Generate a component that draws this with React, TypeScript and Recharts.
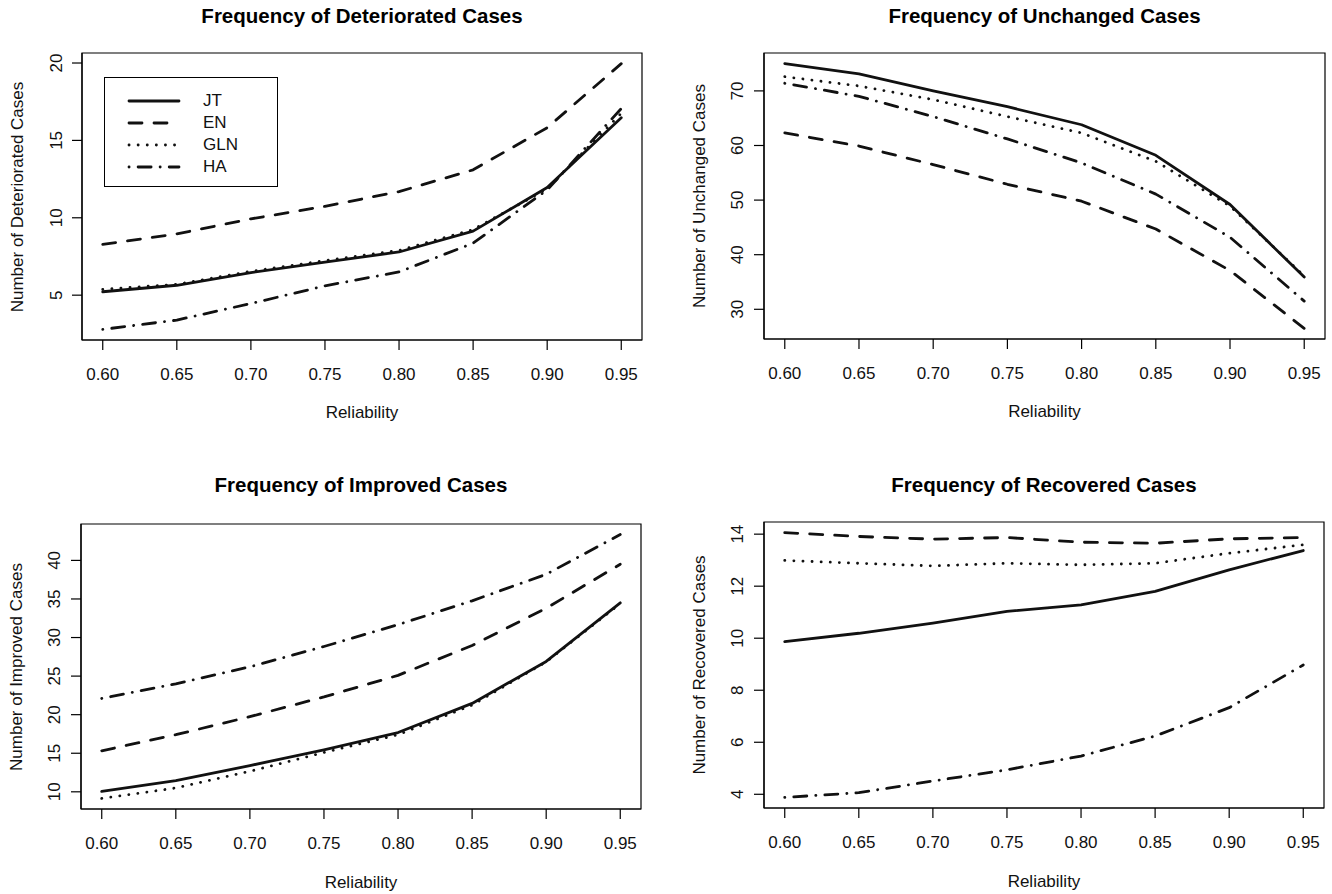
import React from 'react';
import { LineChart, Line, XAxis, YAxis, ReferenceArea, Legend } from 'recharts';

// ---- data ----
const reliability = [0.6, 0.65, 0.7, 0.75, 0.8, 0.85, 0.9, 0.95];
const seriesNames = ['JT', 'EN', 'GLN', 'HA'];

const deterioratedJT = [5.22, 5.64, 6.46, 7.14, 7.79, 9.14, 11.96, 16.46];
const deterioratedEN = [8.28, 8.96, 9.93, 10.74, 11.69, 13.1, 15.82, 19.96];
const deterioratedGLN = [5.38, 5.7, 6.54, 7.23, 7.89, 9.24, 11.86, 16.75];
const deterioratedHA = [2.79, 3.39, 4.46, 5.6, 6.5, 8.36, 11.8, 17.06];
const deterioratedTicks = [5, 10, 15, 20];

const unchangedJT = [75.0, 73.1, 70.0, 67.1, 63.8, 58.2, 49.2, 35.9];
const unchangedEN = [62.3, 59.9, 56.5, 52.9, 49.8, 44.7, 37.1, 26.5];
const unchangedGLN = [72.6, 70.9, 68.4, 65.3, 62.3, 57.1, 48.9, 36.1];
const unchangedHA = [71.4, 69.0, 65.3, 61.2, 56.8, 51.1, 43.2, 31.5];
const unchangedTicks = [30, 40, 50, 60, 70];

const improvedJT = [10.05, 11.46, 13.4, 15.45, 17.68, 21.46, 26.9, 34.5];
const improvedEN = [15.32, 17.4, 19.74, 22.3, 25.1, 28.97, 33.8, 39.5];
const improvedGLN = [9.14, 10.5, 12.66, 15.1, 17.4, 21.25, 26.85, 34.4];
const improvedHA = [22.1, 24.0, 26.2, 28.84, 31.67, 34.76, 38.2, 43.35];
const improvedTicks = [10, 15, 20, 25, 30, 35, 40];

const recoveredJT = [9.87, 10.19, 10.58, 11.03, 11.28, 11.8, 12.63, 13.37];
const recoveredEN = [14.06, 13.91, 13.81, 13.87, 13.69, 13.65, 13.82, 13.87];
const recoveredGLN = [12.99, 12.88, 12.78, 12.88, 12.82, 12.88, 13.27, 13.59];
const recoveredHA = [3.88, 4.06, 4.51, 4.94, 5.47, 6.24, 7.33, 8.97];
const recoveredTicks = [4, 6, 8, 10, 12, 14];

// ---- styles ----
const FONT = '"Liberation Sans", Arial, Helvetica, sans-serif';
const INK = '#111';
const DASH: Record<string, string | undefined> = {
  JT: undefined,
  EN: '13 12',
  GLN: '0.1 9',
  HA: '0.1 9 13 9',
};
const LINE_W = 2.8;
const PW = 666;
const PH = 447;

type PanelCfg = {
  title: string;
  yLabel: string;
  series: number[][];
  ticks: number[];
  left: number;
  top: number;
  boxLeft: number;
  boxRight: number;
  boxTop: number;
  boxBottom: number;
  xTickGap: number;
  yTickGap: number;
  titleY: number;
  xLabelGap: number;
  legend?: boolean;
};

const rDomain = (arrs: number[][]): [number, number] => {
  const all = arrs.flat();
  const mn = Math.min(...all);
  const mx = Math.max(...all);
  const pad = 0.04 * (mx - mn);
  return [mn - pad, mx + pad];
};
const xDomain: [number, number] = [
  reliability[0] - 0.04 * (reliability[reliability.length - 1] - reliability[0]),
  reliability[reliability.length - 1] + 0.04 * (reliability[reliability.length - 1] - reliability[0]),
];

const renderLegend = (props: any) => {
  const payload: any[] = props && props.payload ? props.payload : [];
  const names = seriesNames.filter(
    (n) => payload.length === 0 || payload.some((p: any) => String(p.value) === n)
  );
  return (
    <div
      style={{
        width: 174,
        height: 110,
        border: '1px solid #000',
        boxSizing: 'border-box',
        background: '#fff',
        position: 'relative',
        fontFamily: FONT,
      }}
    >
      {names.map((name, i) => (
        <div
          key={name}
          style={{ position: 'absolute', left: 0, top: 12 + 22 * i, height: 22, display: 'flex', alignItems: 'center' }}
        >
          <svg width={98} height={22} style={{ display: 'block' }}>
            <line
              x1={24}
              x2={74}
              y1={11}
              y2={11}
              stroke={INK}
              strokeWidth={LINE_W}
              strokeDasharray={DASH[name]}
              strokeLinecap="round"
            />
          </svg>
          <span style={{ fontSize: 17, color: INK, lineHeight: '22px' }}>{name}</span>
        </div>
      ))}
    </div>
  );
};

const Panel = ({ cfg }: { cfg: PanelCfg }) => {
  const rows = reliability.map((r, i) => ({
    r,
    JT: cfg.series[0][i],
    EN: cfg.series[1][i],
    GLN: cfg.series[2][i],
    HA: cfg.series[3][i],
  }));
  const yDomain = rDomain(cfg.series);
  const xAxisH = 80;
  const boxCx = (cfg.boxLeft + cfg.boxRight) / 2;
  const boxCy = (cfg.boxTop + cfg.boxBottom) / 2;

  const XTick = (p: any) => (
    <text
      x={p.x}
      y={p.y}
      textAnchor="middle"
      dominantBaseline="central"
      fontFamily={FONT}
      fontSize={17}
      fill={INK}
    >
      {Number(p.payload.value).toFixed(2)}
    </text>
  );
  const YTick = (p: any) => (
    <text
      x={p.x}
      y={p.y}
      textAnchor="middle"
      dominantBaseline="central"
      fontFamily={FONT}
      fontSize={17}
      fill={INK}
      transform={`rotate(-90, ${p.x}, ${p.y})`}
    >
      {p.payload.value}
    </text>
  );

  return (
    <div style={{ position: 'absolute', left: cfg.left, top: cfg.top, width: PW, height: PH }}>
      <LineChart
        width={PW}
        height={PH}
        data={rows}
        margin={{ top: cfg.boxTop, right: PW - cfg.boxRight, bottom: PH - cfg.boxBottom - xAxisH, left: 0 }}
      >
        <XAxis
          dataKey="r"
          type="number"
          domain={xDomain}
          ticks={reliability}
          allowDataOverflow
          height={xAxisH}
          tickSize={10}
          tickMargin={cfg.xTickGap - 10}
          axisLine={{ stroke: '#000', strokeWidth: 1.2 }}
          tickLine={{ stroke: '#000', strokeWidth: 1.2 }}
          tick={XTick}
          interval={0}
        />
        <YAxis
          type="number"
          domain={yDomain}
          ticks={cfg.ticks}
          allowDataOverflow
          width={cfg.boxLeft}
          tickSize={10}
          tickMargin={cfg.yTickGap - 10}
          axisLine={{ stroke: '#000', strokeWidth: 1.2 }}
          tickLine={{ stroke: '#000', strokeWidth: 1.2 }}
          tick={YTick}
          interval={0}
        />
        <ReferenceArea
          x1={xDomain[0]}
          x2={xDomain[1]}
          y1={yDomain[0]}
          y2={yDomain[1]}
          fill="none"
          fillOpacity={0}
          stroke="#000"
          strokeWidth={1.2}
          ifOverflow="visible"
        />
        {seriesNames.map((n) => (
          <Line
            key={n}
            dataKey={n}
            name={n}
            type="linear"
            stroke={INK}
            strokeWidth={LINE_W}
            strokeDasharray={DASH[n]}
            strokeLinecap="round"
            strokeLinejoin="round"
            dot={false}
            activeDot={false}
            isAnimationActive={false}
          />
        ))}
        {cfg.legend ? (
          <Legend
            layout="vertical"
            align="center"
            verticalAlign="middle"
            content={renderLegend}
            wrapperStyle={{ position: 'absolute', left: 104, top: 77, width: 174, height: 110 }}
          />
        ) : null}
      </LineChart>
      <div
        style={{
          position: 'absolute',
          left: boxCx - 300,
          width: 600,
          top: cfg.titleY - 13,
          height: 26,
          lineHeight: '26px',
          textAlign: 'center',
          fontFamily: FONT,
          fontWeight: 'bold',
          fontSize: 20.5,
          color: '#000',
        }}
      >
        {cfg.title}
      </div>
      <div
        style={{
          position: 'absolute',
          left: boxCx - 150,
          width: 300,
          top: cfg.boxBottom + cfg.xLabelGap - 12,
          height: 24,
          lineHeight: '24px',
          textAlign: 'center',
          fontFamily: FONT,
          fontSize: 17,
          color: INK,
        }}
      >
        Reliability
      </div>
      <div
        style={{
          position: 'absolute',
          left: cfg.boxLeft - 64 - 200,
          width: 400,
          top: boxCy - 12,
          height: 24,
          lineHeight: '24px',
          textAlign: 'center',
          fontFamily: FONT,
          fontSize: 17,
          color: INK,
          transform: 'rotate(-90deg)',
          transformOrigin: '50% 50%',
          whiteSpace: 'nowrap',
        }}
      >
        {cfg.yLabel}
      </div>
    </div>
  );
};

const panels: PanelCfg[] = [
  {
    title: 'Frequency of Deteriorated Cases',
    yLabel: 'Number of Deteriorated Cases',
    series: [deterioratedJT, deterioratedEN, deterioratedGLN, deterioratedHA],
    ticks: deterioratedTicks,
    left: 0,
    top: 0,
    boxLeft: 82,
    boxRight: 642,
    boxTop: 53,
    boxBottom: 340,
    xTickGap: 34,
    yTickGap: 25,
    titleY: 16,
    xLabelGap: 73,
    legend: true,
  },
  {
    title: 'Frequency of Unchanged Cases',
    yLabel: 'Number of Unchanged Cases',
    series: [unchangedJT, unchangedEN, unchangedGLN, unchangedHA],
    ticks: unchangedTicks,
    left: 666,
    top: 0,
    boxLeft: 98,
    boxRight: 659,
    boxTop: 53,
    boxBottom: 339,
    xTickGap: 34,
    yTickGap: 26,
    titleY: 16,
    xLabelGap: 73,
  },
  {
    title: 'Frequency of Improved Cases',
    yLabel: 'Number of Improved Cases',
    series: [improvedJT, improvedEN, improvedGLN, improvedHA],
    ticks: improvedTicks,
    left: 0,
    top: 447,
    boxLeft: 81,
    boxRight: 641,
    boxTop: 77,
    boxBottom: 362,
    xTickGap: 34,
    yTickGap: 26,
    titleY: 38,
    xLabelGap: 74,
  },
  {
    title: 'Frequency of Recovered Cases',
    yLabel: 'Number of Recovered Cases',
    series: [recoveredJT, recoveredEN, recoveredGLN, recoveredHA],
    ticks: recoveredTicks,
    left: 666,
    top: 447,
    boxLeft: 98,
    boxRight: 658,
    boxTop: 75,
    boxBottom: 361,
    xTickGap: 34,
    yTickGap: 26,
    titleY: 38,
    xLabelGap: 74,
  },
];

export default function App() {
  return (
    <div
      style={{
        position: 'absolute',
        left: 0,
        top: 0,
        width: 1332,
        height: 894,
        background: '#fff',
        overflow: 'hidden',
      }}
    >
      {panels.map((p) => (
        <Panel key={p.title} cfg={p} />
      ))}
    </div>
  );
}
